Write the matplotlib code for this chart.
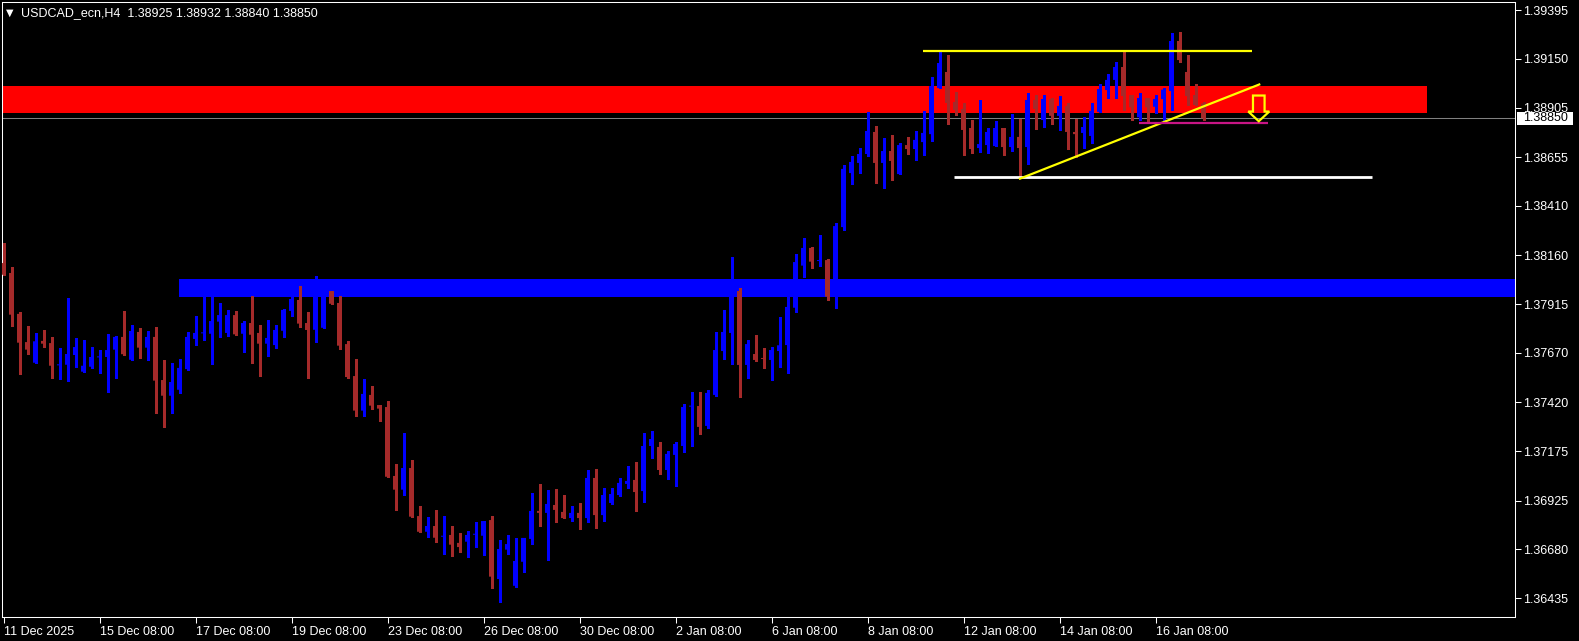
import matplotlib
matplotlib.use("Agg")
import matplotlib.pyplot as plt
from matplotlib.patches import Rectangle, Polygon
from matplotlib.transforms import blended_transform_factory
import numpy as np

# ---------------- data ----------------
SYMBOL = "USDCAD_ecn"
TIMEFRAME = "H4"

opens = [
    1.38122, 1.38072, 1.37866, 1.37724, 1.37620, 1.37730, 1.37719, 1.37607, 1.37610, 1.37659,
    1.37575, 1.37600, 1.37647, 1.37649, 1.37686, 1.37750, 1.37635, 1.37775, 1.37696, 1.37750,
    1.37533, 1.37454, 1.37484, 1.37588, 1.37740, 1.37768, 1.37766, 1.37827, 1.37770, 1.37860,
    1.37766, 1.37820, 1.37770, 1.37716, 1.37709, 1.37781, 1.37881, 1.37936, 1.37820, 1.37786,
    1.37796, 1.37981, 1.37921, 1.37714, 1.37553, 1.37379, 1.37458, 1.37407, 1.37397, 1.37050,
    1.36981, 1.37090, 1.36848, 1.36769, 1.36798, 1.36744, 1.36753, 1.36713, 1.36719, 1.36754,
    1.36749, 1.36828, 1.36531, 1.36679, 1.36497, 1.36618, 1.36733, 1.36874, 1.36864, 1.36904,
    1.36869, 1.36838, 1.36864, 1.36838, 1.37040, 1.36853, 1.36914, 1.36954, 1.37010, 1.37030,
    1.36974, 1.37201, 1.37196, 1.37080, 1.37156, 1.37201, 1.37399, 1.37402, 1.37302, 1.37458,
    1.37679, 1.37770, 1.37981, 1.37609, 1.37664, 1.37641, 1.37634, 1.37679, 1.37709, 1.37897,
    1.38109, 1.38198, 1.38132, 1.38137, 1.37956, 1.38303, 1.38575, 1.38626, 1.38671, 1.38782,
    1.38626, 1.38686, 1.38570, 1.38716, 1.38696, 1.38731, 1.38771, 1.39003, 1.39084, 1.38933,
    1.38898, 1.38802, 1.38701, 1.38716, 1.38711, 1.38802, 1.38706, 1.38757, 1.38706, 1.38943,
    1.38842, 1.38948, 1.38863, 1.38913, 1.38782, 1.38777, 1.38762, 1.38883, 1.38993, 1.39044,
    1.39109, 1.38968, 1.38856, 1.38953, 1.38909, 1.38947, 1.38988, 1.39240, 1.39084, 1.38968,
    1.38925,
]
highs = [
    1.38224, 1.38102, 1.37876, 1.37804, 1.37770, 1.37785, 1.37750, 1.37694, 1.37946, 1.37746,
    1.37734, 1.37699, 1.37684, 1.37765, 1.37755, 1.37881, 1.37810, 1.37795, 1.37780, 1.37800,
    1.37634, 1.37619, 1.37639, 1.37775, 1.37855, 1.38011, 1.37986, 1.37921, 1.37886, 1.37881,
    1.37830, 1.37956, 1.37810, 1.37834, 1.37810, 1.37892, 1.37951, 1.38006, 1.37876, 1.38057,
    1.38016, 1.37981, 1.37956, 1.37730, 1.37639, 1.37538, 1.37503, 1.37407, 1.37427, 1.37110,
    1.37268, 1.37130, 1.36899, 1.36843, 1.36879, 1.36848, 1.36798, 1.36763, 1.36773, 1.36818,
    1.36823, 1.36848, 1.36728, 1.36753, 1.36738, 1.36738, 1.36964, 1.37010, 1.36979, 1.36984,
    1.36954, 1.36899, 1.36914, 1.37080, 1.37085, 1.36989, 1.36989, 1.37040, 1.37100, 1.37120,
    1.37266, 1.37276, 1.37221, 1.37176, 1.37221, 1.37412, 1.37473, 1.37473, 1.37483, 1.37775,
    1.37886, 1.38152, 1.37996, 1.37734, 1.37760, 1.37694, 1.37698, 1.37850, 1.37961, 1.38168,
    1.38248, 1.38203, 1.38263, 1.38142, 1.38323, 1.38616, 1.38661, 1.38701, 1.38883, 1.38812,
    1.38752, 1.38767, 1.38726, 1.38757, 1.38787, 1.38888, 1.39057, 1.39184, 1.39169, 1.38983,
    1.38928, 1.38842, 1.38943, 1.38802, 1.38837, 1.38802, 1.38872, 1.38847, 1.38978, 1.38968,
    1.38968, 1.38953, 1.38963, 1.38928, 1.38847, 1.38857, 1.38928, 1.39023, 1.39074, 1.39134,
    1.39184, 1.38968, 1.38977, 1.38953, 1.38968, 1.39002, 1.39280, 1.39285, 1.39169, 1.39023,
    1.38932,
]
lows = [
    1.38062, 1.37807, 1.37565, 1.37666, 1.37620, 1.37701, 1.37545, 1.37540, 1.37530, 1.37597,
    1.37575, 1.37595, 1.37570, 1.37474, 1.37545, 1.37659, 1.37635, 1.37645, 1.37635, 1.37368,
    1.37298, 1.37368, 1.37469, 1.37585, 1.37711, 1.37736, 1.37615, 1.37751, 1.37756, 1.37760,
    1.37676, 1.37620, 1.37555, 1.37656, 1.37696, 1.37750, 1.37857, 1.37800, 1.37545, 1.37726,
    1.37796, 1.37917, 1.37691, 1.37543, 1.37353, 1.37353, 1.37389, 1.37328, 1.37046, 1.36880,
    1.36956, 1.36845, 1.36769, 1.36744, 1.36719, 1.36657, 1.36648, 1.36667, 1.36643, 1.36694,
    1.36653, 1.36487, 1.36417, 1.36659, 1.36493, 1.36568, 1.36709, 1.36800, 1.36628, 1.36818,
    1.36838, 1.36823, 1.36785, 1.36818, 1.36788, 1.36823, 1.36909, 1.36949, 1.36989, 1.36874,
    1.36919, 1.37140, 1.37060, 1.37035, 1.36999, 1.37171, 1.37201, 1.37261, 1.37292, 1.37453,
    1.37639, 1.37614, 1.37448, 1.37542, 1.37629, 1.37594, 1.37533, 1.37599, 1.37567, 1.37877,
    1.38052, 1.38097, 1.38109, 1.37937, 1.37897, 1.38288, 1.38520, 1.38575, 1.38661, 1.38525,
    1.38500, 1.38540, 1.38570, 1.38671, 1.38641, 1.38666, 1.38736, 1.39003, 1.38822, 1.38868,
    1.38666, 1.38676, 1.38681, 1.38676, 1.38711, 1.38666, 1.38686, 1.38552, 1.38620, 1.38797,
    1.38807, 1.38822, 1.38792, 1.38696, 1.38656, 1.38701, 1.38726, 1.38883, 1.38953, 1.38953,
    1.38893, 1.38842, 1.38842, 1.38837, 1.38877, 1.38834, 1.38893, 1.39134, 1.38918, 1.38918,
    1.38840,
]
closes = [
    1.38063, 1.37862, 1.37721, 1.37686, 1.37728, 1.37716, 1.37605, 1.37607, 1.37664, 1.37699,
    1.37605, 1.37649, 1.37647, 1.37684, 1.37750, 1.37663, 1.37780, 1.37696, 1.37750, 1.37530,
    1.37454, 1.37523, 1.37594, 1.37750, 1.37770, 1.37768, 1.37830, 1.37860, 1.37860, 1.37763,
    1.37820, 1.37761, 1.37716, 1.37745, 1.37785, 1.37886, 1.37941, 1.37817, 1.37785, 1.37986,
    1.37981, 1.37917, 1.37706, 1.37548, 1.37379, 1.37463, 1.37404, 1.37389, 1.37046, 1.36981,
    1.37090, 1.36845, 1.36769, 1.36798, 1.36739, 1.36744, 1.36704, 1.36692, 1.36753, 1.36754,
    1.36823, 1.36543, 1.36682, 1.36707, 1.36622, 1.36738, 1.36874, 1.36864, 1.36909, 1.36879,
    1.36838, 1.36864, 1.36838, 1.37040, 1.36853, 1.36954, 1.36959, 1.37015, 1.37025, 1.36969,
    1.37201, 1.37236, 1.37080, 1.37161, 1.37211, 1.37397, 1.37399, 1.37297, 1.37468, 1.37684,
    1.37775, 1.37986, 1.37609, 1.37714, 1.37634, 1.37639, 1.37684, 1.37708, 1.37901, 1.38127,
    1.38198, 1.38129, 1.38132, 1.37953, 1.38308, 1.38596, 1.38631, 1.38671, 1.38787, 1.38626,
    1.38686, 1.38636, 1.38716, 1.38696, 1.38742, 1.38777, 1.39013, 1.39129, 1.38928, 1.38893,
    1.38792, 1.38696, 1.38721, 1.38782, 1.38802, 1.38706, 1.38757, 1.38701, 1.38943, 1.38898,
    1.38948, 1.38863, 1.38913, 1.38782, 1.38771, 1.38807, 1.38888, 1.38998, 1.39044, 1.39109,
    1.38963, 1.38906, 1.38953, 1.38906, 1.38948, 1.38995, 1.39240, 1.39144, 1.38963, 1.38918,
    1.38850,
]

price_ticks = [1.39395, 1.39150, 1.38905, 1.38655, 1.38410, 1.38160, 1.37915,
               1.37670, 1.37420, 1.37175, 1.36925, 1.36680, 1.36435]
date_tick_bars = [0, 12, 24, 36, 48, 60, 72, 84, 96, 108, 120, 132, 144]
date_labels = ["11 Dec 2025", "15 Dec 08:00", "17 Dec 08:00", "19 Dec 08:00",
               "23 Dec 08:00", "26 Dec 08:00", "30 Dec 08:00", "2 Jan 08:00",
               "6 Jan 08:00", "8 Jan 08:00", "12 Jan 08:00", "14 Jan 08:00",
               "16 Jan 08:00"]

# drawn objects (price levels / bar positions)
resistance_zone = (1.38878, 1.39013)
resistance_zone_end_bar = 177.94
support_zone = (1.37951, 1.38042)
support_zone_start_bar = 21.94
top_line_price = 1.39191
top_line_bars = (114.94, 156.03)
base_line_price = 1.38554
base_line_bars = (118.81, 171.06)
trend_bars = (127.06, 156.97)
trend_prices = (1.38547, 1.39021)
break_line_price = 1.38829
break_line_bars = (141.98, 158.03)
arrow_tip = (156.91, 1.38836)

# ---------------- styling ----------------
BULL = "#0000FF"
BEAR = "#A52A2A"
FG = "#FFFFFF"
plt.rcParams["font.family"] = ["Liberation Sans", "DejaVu Sans"]

W, H, DPI = 1579, 641, 100
AX_L, AX_R, AX_T, AX_B = 2, 1515, 2, 616.5      # plot frame in pixels
BAR_PX, X0_PX = 8, 3.5                           # bar spacing / first bar centre
Y_TOP, Y_BOT = 1.394363, 1.363424                # price range of the frame

fig = plt.figure(figsize=(W / DPI, H / DPI), dpi=DPI, facecolor="black")
ax = fig.add_axes([AX_L / W, (H - AX_B) / H, (AX_R - AX_L) / W, (AX_B - AX_T) / H])
ax.set_facecolor("black")
xmin = (AX_L - X0_PX) / BAR_PX
xmax = (AX_R - X0_PX) / BAR_PX
ax.set_xlim(xmin, xmax)
ax.set_ylim(Y_BOT, Y_TOP)
dx_px = 1.0 / BAR_PX
dy_px = (Y_TOP - Y_BOT) / (AX_B - AX_T)

# zones
ax.add_patch(Rectangle((xmin, resistance_zone[0]), resistance_zone_end_bar - xmin,
                       resistance_zone[1] - resistance_zone[0], facecolor="#FF0000",
                       lw=0, zorder=1))
ax.add_patch(Rectangle((support_zone_start_bar, support_zone[0]), xmax - support_zone_start_bar,
                       support_zone[1] - support_zone[0], facecolor="#0000FF",
                       lw=0, zorder=1))

# current price line
ax.axhline(closes[-1], color="#808080", lw=0.75, zorder=2)

# candles
o = np.array(opens); h = np.array(highs); l = np.array(lows); c = np.array(closes)
x = np.arange(len(o))
cols = np.where(c >= o, BULL, BEAR)
ax.vlines(x, l, h, colors=cols, lw=0.75, zorder=3, antialiased=False)
body_lo = np.minimum(o, c)
body_h = np.maximum(np.abs(c - o), dy_px)
ax.bar(x, body_h, bottom=body_lo, width=5.0 / BAR_PX, color=cols, lw=0, zorder=3,
       antialiased=True, snap=False)

# drawn lines
ax.hlines(top_line_price, *top_line_bars, color="#FFFF00", lw=1.6, zorder=4)
ax.hlines(base_line_price, *base_line_bars, color="#FFFFFF", lw=2.0, zorder=4)
ax.plot(trend_bars, trend_prices, color="#FFFF00", lw=1.6, zorder=4)
ax.hlines(break_line_price, *break_line_bars, color="#C71585", lw=1.6, zorder=4)

# hollow down arrow
tx, ty = arrow_tip
shape = [(-5.8, 25.7), (5.8, 25.7), (5.8, 9.7), (10.5, 9.7), (0, 0), (-10.5, 9.7), (-5.8, 9.7)]
pts = [(tx + sx * dx_px, ty + sy * dy_px) for sx, sy in shape]
ax.add_patch(Polygon(pts, closed=True, fill=False, edgecolor="#FFFF00", lw=1.6,
                     joinstyle="miter", zorder=5))

# axes styling
for s in ax.spines.values():
    s.set_color(FG)
    s.set_linewidth(0.75)
ax.yaxis.tick_right()
ax.set_yticks(price_ticks)
ax.set_yticklabels([f"{p:.5f}" for p in price_ticks])
ax.set_xticks(date_tick_bars)
ax.set_xticklabels(date_labels, ha="left")
ax.tick_params(axis="y", colors=FG, length=4, width=0.75, pad=2, labelsize=9)
ax.tick_params(axis="x", colors=FG, length=4, width=0.75, pad=3, labelsize=9)
for lab in ax.get_xticklabels():
    lab.set_horizontalalignment("left")

# current price box on the right scale
bt = blended_transform_factory(ax.transAxes, ax.transData)
ax_w_px = AX_R - AX_L
ax.add_patch(Rectangle((1 + 1.7 / ax_w_px, closes[-1] - 6.5 * dy_px), 56 / ax_w_px, 13 * dy_px,
                       transform=bt, facecolor="white", edgecolor="white", lw=0,
                       clip_on=False, zorder=6))
ax.text(1 + 7.7 / ax_w_px, closes[-1], f"{closes[-1]:.5f}", transform=bt, color="black",
        fontsize=9, va="center", ha="left", clip_on=False, zorder=7)

# header
fig.text(6 / W, 1 - 12.5 / H, "\u25BC", color=FG, fontsize=7, va="center", ha="left",
         family=["DejaVu Sans"])
fig.text(20.7 / W, 1 - 12.7 / H,
         f"{SYMBOL},{TIMEFRAME}  {opens[-1]:.5f} {highs[-1]:.5f} {lows[-1]:.5f} {closes[-1]:.5f}",
         color=FG, fontsize=9, va="center", ha="left")

fig.savefig("out.png", dpi=DPI, facecolor="black")
